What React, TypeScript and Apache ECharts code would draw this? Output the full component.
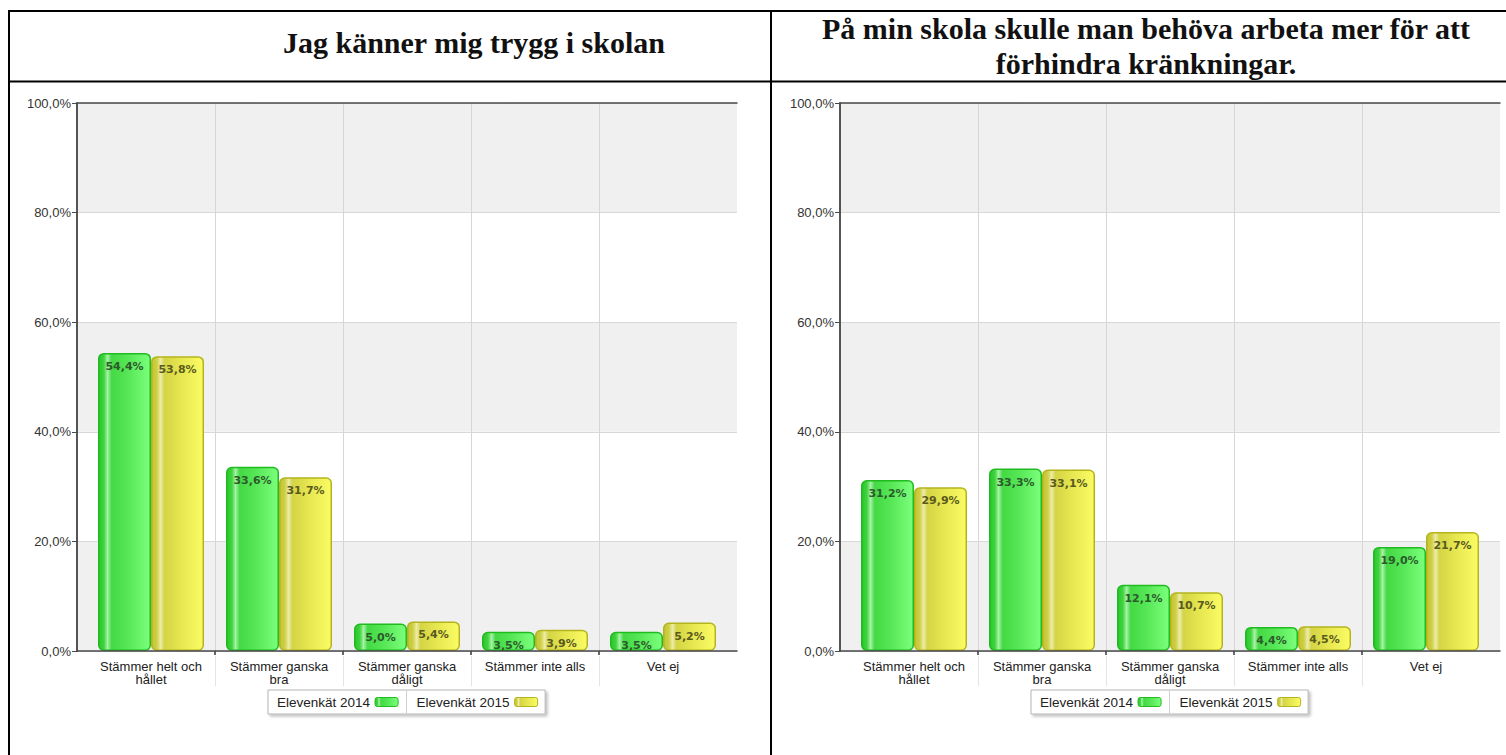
import React, { useEffect, useRef } from 'react';
import * as echarts from 'echarts';

const categories = ['Stämmer helt och\nhållet', 'Stämmer ganska\nbra', 'Stämmer ganska\ndåligt', 'Stämmer inte alls', 'Vet ej'];
const seriesNames = ['Elevenkät 2014', 'Elevenkät 2015'];
const leftTitle = 'Jag känner mig trygg i skolan';
const rightTitle = 'På min skola skulle man behöva arbeta mer för att\nförhindra kränkningar.';
const left2014 = [54.4, 33.6, 5.0, 3.5, 3.5];
const left2015 = [53.8, 31.7, 5.4, 3.9, 5.2];
const right2014 = [31.2, 33.3, 12.1, 4.4, 19.0];
const right2015 = [29.9, 33.1, 10.7, 4.5, 21.7];
const yMin = 0;
const yMax = 100;
const yInterval = 20;

const greenFill = {
  type: 'linear', x: 0, y: 0, x2: 1, y2: 0,
  colorStops: [
    { offset: 0, color: '#2cc52c' },
    { offset: 0.1, color: '#3ed43e' },
    { offset: 0.17, color: '#a6f2a6' },
    { offset: 0.25, color: '#45d945' },
    { offset: 0.55, color: '#55e655' },
    { offset: 1, color: '#7cff7c' },
  ],
};
const yellowFill = {
  type: 'linear', x: 0, y: 0, x2: 1, y2: 0,
  colorStops: [
    { offset: 0, color: '#c4c436' },
    { offset: 0.1, color: '#cfcf44' },
    { offset: 0.17, color: '#ececa8' },
    { offset: 0.25, color: '#d4d446' },
    { offset: 0.55, color: '#e6e650' },
    { offset: 1, color: '#fbfb64' },
  ],
};
const fills = [greenFill, yellowFill];
const borders = ['#1fbb1f', '#b4b41c'];
const labelColors = ['#2c5a2c', '#5a5a1e'];

const fmt = (v: number) => v.toFixed(1).replace('.', ',') + '%';

export default function App() {
  const ref = useRef<HTMLDivElement>(null);
  useEffect(() => {
    if (!ref.current) return;
    const chart = echarts.init(ref.current, null, { renderer: 'svg' });
    const panels = [
      { frameLeft: 77, data: [left2014, left2015], legendLeft: 268, sep: 406.5 },
      { frameLeft: 840, data: [right2014, right2015], legendLeft: 1031, sep: 1169.5 },
    ];
    const top = 103;
    const height = 548;
    const sansFont = 'Liberation Sans, Arial, sans-serif';
    const grids: any[] = [];
    const xAxes: any[] = [];
    const yAxes: any[] = [];
    const series: any[] = [];
    const legends: any[] = [];
    const graphics: any[] = [];
    panels.forEach((p) => {
      const g0 = grids.length;
      grids.push({ left: p.frameLeft, top, width: 660, height });
      grids.push({ left: p.frameLeft + 10, top, width: 640, height });
      grids.push({ left: p.frameLeft + 138, top, width: 384, height });
      const frameLine = { show: true, lineStyle: { color: '#4a4a4a', width: 1.5 } };
      xAxes.push({ gridIndex: g0, type: 'value', min: 0, max: 1, position: 'bottom', z: 3, axisLine: { ...frameLine, onZero: false }, axisTick: { show: false }, axisLabel: { show: false }, splitLine: { show: false } });
      xAxes.push({ gridIndex: g0, type: 'value', min: 0, max: 1, position: 'top', z: 3, axisLine: { ...frameLine, onZero: false }, axisTick: { show: false }, axisLabel: { show: false }, splitLine: { show: false } });
      const xBar = xAxes.length;
      xAxes.push({
        gridIndex: g0 + 1, type: 'category', data: categories, position: 'bottom',
        axisLine: { show: false }, axisTick: { show: false },
        axisLabel: { interval: 0, margin: 9, fontSize: 13, lineHeight: 13, color: '#222', fontFamily: sansFont },
        splitLine: { show: false },
      });
      xAxes.push({
        gridIndex: g0 + 2, type: 'category', data: ['', '', '', ''], boundaryGap: false, position: 'bottom', z: 1,
        axisLine: { show: false }, axisLabel: { show: false },
        axisTick: { show: true, length: 4, lineStyle: { color: '#333', width: 1.5 } },
        splitLine: { show: true, lineStyle: { color: '#d6d6d6', width: 1 } },
      });
      xAxes.push({
        gridIndex: g0 + 2, type: 'category', data: ['', '', '', ''], boundaryGap: false, position: 'bottom', offset: 5, z: 1,
        axisLine: { show: false }, axisLabel: { show: false },
        axisTick: { show: true, length: 30, lineStyle: { color: '#e4e4e4', width: 1 } },
        splitLine: { show: false },
      });
      yAxes.push({
        gridIndex: g0, type: 'value', min: yMin, max: yMax, interval: yInterval, z: 0,
        axisLine: { show: true, lineStyle: { color: '#4a4a4a', width: 1.5 } },
        axisTick: { show: true, length: 5, lineStyle: { color: '#4a4a4a' } },
        axisLabel: { formatter: (v: number) => v.toFixed(1).replace('.', ',') + '%', fontSize: 13, color: '#333', margin: 6, fontFamily: sansFont },
        splitLine: { show: true, lineStyle: { color: '#d8d8d8' } },
        splitArea: { show: true, areaStyle: { color: ['#f0f0f0', '#ffffff'] } },
      });
      yAxes.push({
        gridIndex: g0, type: 'value', min: yMin, max: yMax, position: 'right', z: 3,
        axisLine: { show: true, lineStyle: { color: '#4a4a4a', width: 1.5 } },
        axisTick: { show: false }, axisLabel: { show: false }, splitLine: { show: false },
      });
      const yBar = yAxes.length;
      yAxes.push({ gridIndex: g0 + 1, type: 'value', min: yMin, max: yMax, show: false });
      yAxes.push({ gridIndex: g0 + 2, type: 'value', min: yMin, max: yMax, show: false });
      p.data.forEach((d, si) => {
        series.push({
          type: 'bar', name: seriesNames[si], xAxisIndex: xBar, yAxisIndex: yBar, data: d,
          barWidth: 53, barGap: '0%', z: 2,
          itemStyle: { color: fills[si], borderColor: borders[si], borderWidth: 1.5, borderRadius: 5 },
          label: {
            show: true, position: 'insideTop', distance: 8, formatter: (pr: any) => fmt(pr.value),
            fontFamily: 'DejaVu Sans, Verdana, sans-serif', fontWeight: 'bold', fontSize: 11, color: labelColors[si],
          },
        });
      });
      legends.push({
        left: p.legendLeft, top: 690, orient: 'horizontal', align: 'right',
        itemWidth: 23, itemHeight: 9, itemGap: 18, padding: [5, 7, 5, 9],
        borderColor: '#b5b5b5', borderWidth: 1, backgroundColor: '#fff',
        shadowBlur: 3, shadowColor: 'rgba(0,0,0,0.25)', shadowOffsetX: 2, shadowOffsetY: 2,
        icon: 'roundRect',
        textStyle: { fontSize: 13.5, color: '#222', fontFamily: sansFont },
        data: seriesNames.map((n, i) => ({ name: n, itemStyle: { color: fills[i], borderColor: borders[i], borderWidth: 1 } })),
      });
      graphics.push({ type: 'line', shape: { x1: p.sep, y1: 691, x2: p.sep, y2: 716 }, style: { stroke: '#d0d0d0', lineWidth: 1 }, z: 100 });
    });
    const border = { stroke: '#000', lineWidth: 2 };
    graphics.push({ type: 'line', shape: { x1: 8, y1: 11, x2: 1506, y2: 11 }, style: border });
    graphics.push({ type: 'line', shape: { x1: 8, y1: 81.5, x2: 1506, y2: 81.5 }, style: border });
    graphics.push({ type: 'line', shape: { x1: 9, y1: 10, x2: 9, y2: 755 }, style: border });
    graphics.push({ type: 'line', shape: { x1: 771, y1: 10, x2: 771, y2: 755 }, style: border });

    const titleFont = { fontFamily: 'Liberation Serif, Times New Roman, serif', fontWeight: 'bold', fontSize: 30, color: '#111', lineHeight: 35 };
    chart.setOption({
      animation: false,
      backgroundColor: '#fff',
      title: [
        { text: leftTitle, left: 474, top: 25, textAlign: 'center', padding: 0, textStyle: titleFont },
        { text: rightTitle, left: 1146, top: 11, textAlign: 'center', padding: 0, textStyle: titleFont },
      ],
      grid: grids,
      xAxis: xAxes,
      yAxis: yAxes,
      legend: legends,
      series,
      graphic: graphics,
    });
    return () => chart.dispose();
  }, []);
  return <div ref={ref} style={{ position: 'absolute', left: 0, top: 0, width: 1506, height: 755 }} />;
}
